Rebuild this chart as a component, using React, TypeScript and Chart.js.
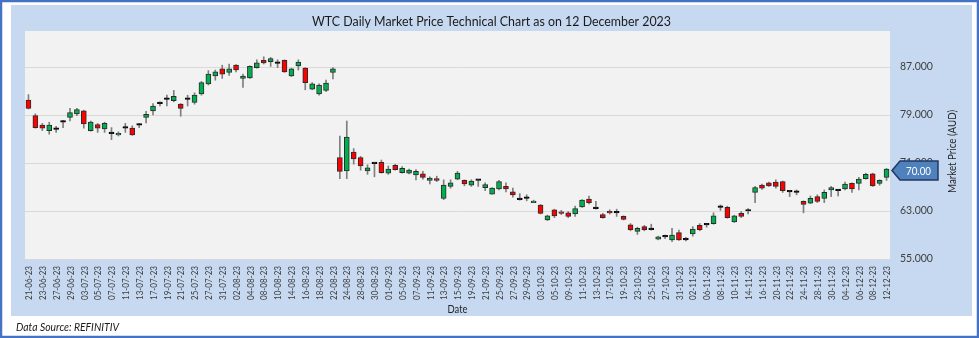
import React, { useEffect, useRef } from 'react';
import { Chart, registerables } from 'chart.js';

Chart.register(...registerables);

// ---------- data ----------
const dates = [
  '21-06-23','22-06-23','23-06-23','26-06-23','27-06-23','28-06-23','29-06-23','30-06-23',
  '03-07-23','04-07-23','05-07-23','06-07-23','07-07-23','10-07-23','11-07-23','12-07-23','13-07-23','14-07-23',
  '17-07-23','18-07-23','19-07-23','20-07-23','21-07-23','24-07-23','25-07-23','26-07-23','27-07-23','28-07-23','31-07-23',
  '01-08-23','02-08-23','03-08-23','04-08-23','07-08-23','08-08-23','09-08-23','10-08-23','11-08-23','14-08-23','15-08-23',
  '16-08-23','17-08-23','18-08-23','21-08-23','22-08-23','23-08-23','24-08-23','25-08-23','28-08-23','29-08-23','30-08-23','31-08-23',
  '01-09-23','04-09-23','05-09-23','06-09-23','07-09-23','08-09-23','11-09-23','12-09-23','13-09-23','14-09-23','15-09-23',
  '18-09-23','19-09-23','20-09-23','21-09-23','22-09-23','25-09-23','26-09-23','27-09-23','28-09-23','29-09-23',
  '02-10-23','03-10-23','04-10-23','05-10-23','06-10-23','09-10-23','10-10-23','11-10-23','12-10-23','13-10-23',
  '16-10-23','17-10-23','18-10-23','19-10-23','20-10-23','23-10-23','24-10-23','25-10-23','26-10-23','27-10-23','30-10-23','31-10-23',
  '01-11-23','02-11-23','03-11-23','06-11-23','07-11-23','08-11-23','09-11-23','10-11-23','13-11-23','14-11-23','15-11-23',
  '16-11-23','17-11-23','20-11-23','21-11-23','22-11-23','23-11-23','24-11-23','27-11-23','28-11-23','29-11-23','30-11-23',
  '01-12-23','04-12-23','05-12-23','06-12-23','07-12-23','08-12-23','11-12-23','12-12-23',
];

const openP = [
  81.5, 78.9, 77.3, 76.4, 76.6, 77.8, 78.6, 79.2, 79.7, 76.4,
  77.4, 76.7, 75.9, 75.7, 76.8, 76.8, 77.3, 78.6, 79.7, 80.9,
  81.6, 81.4, 80.8, 81.6, 81.1, 82.5, 84.2, 85.5, 86.7, 86.1,
  87.3, 85.1, 85.2, 86.9, 88.1, 87.9, 87.6, 88.1, 85.5, 87.2,
  86.8, 83.3, 82.5, 83.1, 86.1, 71.9, 69.7, 72.8, 71.9, 69.7,
  70.9, 71.1, 69.3, 70.6, 69.4, 69.3, 69.0, 69.2, 68.1, 68.4,
  65.1, 67.1, 68.3, 68.1, 67.3, 68.1, 66.9, 65.8, 66.7, 67.1,
  66.2, 64.9, 65.1, 64.4, 64.0, 61.5, 63.2, 62.8, 62.7, 62.5,
  63.7, 65.0, 63.4, 62.4, 62.9, 62.7, 62.1, 60.7, 59.6, 60.4,
  59.9, 58.3, 58.7, 58.2, 59.4, 58.2, 59.2, 60.6, 60.7, 60.9,
  63.6, 63.6, 61.2, 62.6, 63.0, 66.1, 67.3, 67.7, 67.8, 67.9,
  66.2, 66.1, 64.6, 64.3, 65.4, 65.1, 66.5, 66.4, 66.7, 67.6,
  67.6, 68.4, 69.2, 67.6, 68.6,
];
const highP = [
  82.4, 79.2, 77.6, 77.8, 77.1, 78.1, 80.1, 80.1, 79.8, 78.0,
  77.6, 77.8, 76.9, 76.2, 77.6, 77.2, 77.6, 79.6, 80.9, 81.2,
  82.3, 83.1, 80.9, 82.3, 82.7, 84.6, 86.4, 86.5, 87.3, 87.5,
  87.4, 85.8, 87.2, 88.2, 88.7, 88.6, 88.2, 88.2, 86.8, 88.2,
  86.9, 84.4, 84.2, 84.8, 86.9, 75.5, 78.0, 73.4, 72.1, 70.7,
  71.0, 71.5, 70.5, 70.8, 70.4, 70.0, 69.9, 69.6, 68.7, 68.8,
  68.2, 68.2, 69.6, 68.2, 68.2, 68.1, 67.7, 66.9, 68.1, 67.7,
  66.8, 65.9, 65.7, 64.8, 64.1, 62.3, 63.3, 63.1, 62.9, 63.8,
  64.9, 65.5, 64.6, 62.6, 63.2, 63.3, 62.2, 60.9, 60.3, 60.6,
  60.8, 58.8, 59.0, 60.1, 59.8, 58.6, 60.4, 60.9, 60.9, 62.7,
  64.0, 63.8, 62.3, 62.9, 63.4, 67.1, 67.5, 67.8, 68.2, 68.0,
  66.3, 66.5, 64.7, 65.5, 65.7, 66.5, 67.1, 66.6, 67.8, 67.7,
  68.6, 69.3, 69.3, 68.2, 70.1,
];
const lowP = [
  80.0, 76.8, 76.4, 75.8, 76.1, 76.9, 78.0, 78.9, 76.8, 76.3,
  76.1, 76.1, 74.9, 75.5, 76.1, 75.6, 76.9, 77.7, 79.0, 80.5,
  80.5, 81.2, 78.8, 80.5, 80.8, 82.3, 84.0, 84.8, 85.1, 85.6,
  86.2, 83.6, 85.1, 86.8, 87.5, 87.1, 86.9, 86.1, 85.4, 86.5,
  83.2, 83.2, 82.3, 82.9, 85.0, 68.4, 68.4, 70.8, 69.8, 69.1,
  68.7, 69.3, 69.1, 69.8, 69.3, 69.2, 68.2, 68.3, 67.5, 67.9,
  64.9, 66.8, 68.2, 67.2, 67.1, 67.1, 66.4, 65.8, 66.5, 66.2,
  65.3, 64.8, 64.7, 64.4, 62.5, 61.4, 61.9, 62.4, 61.9, 62.1,
  63.6, 64.2, 63.3, 61.8, 62.5, 62.1, 61.5, 59.7, 59.1, 59.7,
  59.8, 58.2, 58.4, 57.9, 58.1, 58.0, 58.8, 59.7, 60.3, 60.8,
  63.1, 61.8, 61.1, 61.9, 62.5, 64.4, 66.6, 67.1, 66.8, 66.1,
  65.4, 65.7, 62.7, 64.2, 64.4, 64.4, 65.4, 65.5, 66.5, 66.1,
  66.5, 68.3, 67.1, 67.3, 68.1,
];
const closeP = [
  80.1, 76.9, 76.8, 77.3, 76.6, 77.8, 79.4, 79.9, 77.5, 77.8,
  76.8, 77.6, 75.9, 75.9, 76.8, 75.7, 77.3, 79.1, 80.5, 80.9,
  81.6, 82.1, 80.1, 81.6, 82.3, 84.4, 85.8, 86.2, 85.8, 86.7,
  86.5, 85.5, 87.1, 87.7, 87.7, 88.4, 87.6, 86.2, 86.7, 87.8,
  84.4, 84.2, 84.0, 84.3, 86.7, 69.6, 75.3, 71.7, 70.5, 70.2,
  70.9, 69.4, 70.0, 69.9, 70.1, 69.8, 69.6, 68.6, 68.5, 68.1,
  67.3, 67.7, 69.3, 67.5, 68.0, 68.1, 67.4, 66.8, 67.9, 66.7,
  65.7, 64.9, 65.1, 64.6, 62.6, 62.2, 62.2, 62.6, 62.1, 63.4,
  64.8, 64.4, 63.4, 61.9, 62.7, 62.7, 61.6, 59.9, 60.1, 59.9,
  59.9, 58.7, 58.7, 59.0, 58.2, 58.2, 60.0, 59.9, 60.7, 62.2,
  63.6, 61.9, 62.2, 62.1, 63.0, 66.9, 66.8, 67.2, 67.1, 66.4,
  66.2, 66.1, 64.1, 65.1, 64.6, 66.1, 66.9, 66.4, 67.5, 66.7,
  68.3, 69.1, 67.2, 68.1, 70.0,
];

const yTicks = [55, 63, 71, 79, 87];
const yMin = 55;
const yMax = 93;

const titleText = 'WTC Daily Market Price Technical Chart as on 12 December 2023';
const xTitleText = 'Date';
const yTitleText = 'Market Price (AUD)';
const sourceText = 'Data Source: REFINITIV';

// ---------- styling ----------
const W = 979;
const H = 338;
const FONT = 'Lato, "Open Sans", "DejaVu Sans", sans-serif';
const UP = '#00B050';
const DOWN = '#FF0000';

const bodyColors = openP.map((o, i) =>
  closeP[i] > o ? UP : closeP[i] < o ? DOWN : '#000000'
);
const bodyBorders = openP.map((o, i) => (closeP[i] === o ? '#000000' : '#2b2b2b'));

// draw text horizontally condensed/expanded so that it spans targetW pixels
function fitText(
  ctx: CanvasRenderingContext2D,
  text: string,
  x: number,
  y: number,
  font: string,
  targetW: number,
  align: CanvasTextAlign
) {
  ctx.save();
  ctx.font = font;
  const w = ctx.measureText(text).width || 1;
  const sx = Math.min(1.15, targetW / w);
  ctx.translate(x, y);
  ctx.scale(sx, 1);
  ctx.textAlign = align;
  ctx.fillText(text, 0, 0);
  ctx.restore();
}

const decor = {
  id: 'decor',
  beforeDraw(chart: any) {
    const ctx = chart.ctx as CanvasRenderingContext2D;
    const a = chart.chartArea;
    ctx.save();
    ctx.fillStyle = '#ffffff';
    ctx.fillRect(0, 0, W, H);
    ctx.fillStyle = '#C6D9F1';
    ctx.fillRect(11, 5, 961, 311);
    ctx.fillStyle = '#F2F2F2';
    ctx.fillRect(a.left, a.top, a.right - a.left, a.bottom - a.top);
    ctx.strokeStyle = '#4472C4';
    ctx.lineWidth = 2.5;
    ctx.strokeRect(1, 1, W - 2, H - 2);

    ctx.textBaseline = 'middle';
    ctx.fillStyle = '#1a1a1a';
    fitText(ctx, titleText, 491.5, 21, `14px ${FONT}`, 359, 'center');

    ctx.fillStyle = '#262626';
    fitText(ctx, xTitleText, (a.left + a.right) / 2, 309, `11px ${FONT}`, 20, 'center');

    ctx.fillStyle = '#1a1a1a';
    fitText(ctx, sourceText, 16, 327, `italic 11px ${FONT}`, 103, 'left');

    ctx.save();
    ctx.translate(952, 151.5);
    ctx.rotate(-Math.PI / 2);
    ctx.fillStyle = '#262626';
    fitText(ctx, yTitleText, 0, 0, `11px ${FONT}`, 83, 'center');
    ctx.restore();
    ctx.restore();
  },
  afterDraw(chart: any) {
    const ctx = chart.ctx as CanvasRenderingContext2D;
    const a = chart.chartArea;
    const xs = chart.scales.x;

    // x tick labels (every other trading day), rotated
    ctx.save();
    ctx.fillStyle = '#404040';
    ctx.textBaseline = 'middle';
    dates.forEach((d, i) => {
      if (i % 2 !== 0) return;
      const px = xs.getPixelForValue(i);
      ctx.save();
      ctx.translate(px + 0.5, a.bottom + 7);
      ctx.rotate(-Math.PI / 2);
      fitText(ctx, d, 0, 0, `10px ${FONT}`, 34, 'right');
      ctx.restore();
    });
    ctx.restore();

    // last price callout
    const last = closeP[closeP.length - 1];
    const y = Math.round(chart.scales.y.getPixelForValue(last)) + 1.5;
    const tip = a.right + 2;
    ctx.save();
    ctx.beginPath();
    ctx.moveTo(tip, y);
    ctx.lineTo(tip + 8, y - 9.5);
    ctx.lineTo(938, y - 9.5);
    ctx.lineTo(938, y + 9.5);
    ctx.lineTo(tip + 8, y + 9.5);
    ctx.closePath();
    ctx.fillStyle = '#4F81BD';
    ctx.fill();
    ctx.strokeStyle = '#203864';
    ctx.lineWidth = 1.5;
    ctx.stroke();
    ctx.fillStyle = '#ffffff';
    ctx.textBaseline = 'middle';
    fitText(ctx, last.toFixed(2), 918.5, y + 0.5, `12px ${FONT}`, 25, 'center');
    ctx.restore();
  },
};

export default function App() {
  const ref = useRef<HTMLCanvasElement>(null);

  useEffect(() => {
    const canvas = ref.current;
    if (!canvas) return;
    const chart = new Chart(canvas, {
      type: 'bar',
      data: {
        labels: dates,
        datasets: [
          {
            label: 'Body',
            data: dates.map((_, i) => [openP[i], closeP[i]]) as any,
            backgroundColor: bodyColors,
            borderColor: bodyBorders,
            borderWidth: 1,
            borderSkipped: false,
            barThickness: 5,
            minBarLength: 1.5,
            grouped: false,
          } as any,
          {
            label: 'Wick',
            data: dates.map((_, i) => [lowP[i], highP[i]]) as any,
            backgroundColor: '#7F7F7F',
            borderWidth: 0,
            barThickness: 1,
            grouped: false,
          } as any,
        ],
      },
      options: {
        responsive: false,
        animation: false,
        events: [],
        layout: { padding: { left: 25, top: 31, right: 0, bottom: 0 } },
        plugins: {
          legend: { display: false },
          title: { display: false },
          tooltip: { enabled: false },
        },
        scales: {
          x: {
            type: 'category',
            offset: true,
            grid: { display: false },
            border: { display: false },
            ticks: { display: false },
            afterFit: (s: any) => {
              s.height = 79;
            },
          },
          y: {
            position: 'right',
            min: yMin,
            max: yMax,
            grid: { color: '#D9D9D9', drawTicks: false },
            border: { display: false },
            afterBuildTicks: (s: any) => {
              s.ticks = yTicks.map((v) => ({ value: v }));
            },
            ticks: {
              padding: 10,
              color: '#404040',
              font: { family: FONT, size: 10.5 },
              callback: (v: any) => Number(v).toFixed(3),
            },
            afterFit: (s: any) => {
              s.width = 89;
            },
          },
        },
      } as any,
      plugins: [decor],
    });
    return () => chart.destroy();
  }, []);

  return (
    <div style={{ position: 'fixed', left: 0, top: 0, width: W, height: H }}>
      <canvas ref={ref} width={W} height={H} style={{ display: 'block', width: W, height: H }} />
    </div>
  );
}
